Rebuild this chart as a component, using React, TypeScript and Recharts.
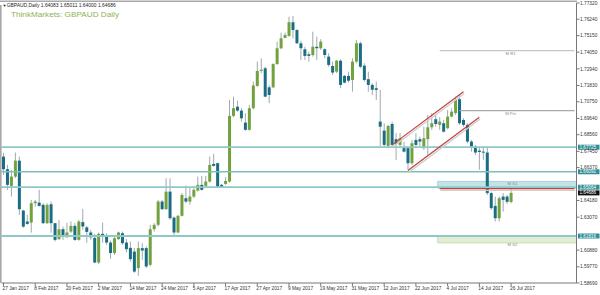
import React from 'react';
import { Bar, ComposedChart, ReferenceArea, ReferenceLine, XAxis, YAxis } from 'recharts';

// GBPAUD daily candles, 27 Jan 2017 .. 26 Jul 2017
const opens = [
  1.671, 1.6626, 1.6515, 1.6577, 1.6683, 1.6351, 1.6278, 1.6271, 1.64, 1.6404,
  1.6389, 1.6267, 1.6393, 1.6267, 1.6161, 1.6227, 1.6174, 1.6211, 1.6249, 1.6156,
  1.6274, 1.6239, 1.6205, 1.6169, 1.6005, 1.6196, 1.6183, 1.6138, 1.6068, 1.6161,
  1.62, 1.6138, 1.6103, 1.6078, 1.5968, 1.6101, 1.6101, 1.599, 1.6227, 1.6256,
  1.6411, 1.636, 1.6477, 1.6304, 1.6205, 1.6316, 1.6433, 1.6411, 1.6444, 1.6484,
  1.6522, 1.6515, 1.6544, 1.6661, 1.6666, 1.6522, 1.6528, 1.6544, 1.6981, 1.7042,
  1.7016, 1.6936, 1.6888, 1.7032, 1.718, 1.728, 1.7298, 1.7171, 1.7171, 1.7326,
  1.7431, 1.75, 1.7513, 1.7604, 1.7552, 1.7464, 1.7424, 1.7391, 1.7386, 1.7441,
  1.7431, 1.7424, 1.7375, 1.7313, 1.7275, 1.7348, 1.7247, 1.7247, 1.722, 1.7342,
  1.7464, 1.7315, 1.7225, 1.7187, 1.7165, 1.6943, 1.6883, 1.6781, 1.6927, 1.6826,
  1.6788, 1.6766, 1.6766, 1.6666, 1.6821, 1.6826, 1.6766, 1.6826, 1.6905, 1.6959,
  1.6921, 1.6932, 1.6899, 1.6976, 1.7, 1.7092, 1.6954, 1.6921, 1.681, 1.6777,
  1.675, 1.6743, 1.6737, 1.6467, 1.6382, 1.63, 1.6444, 1.6444, 1.64083,
];
const highs = [
  1.6735, 1.6655, 1.6622, 1.6737, 1.671, 1.6356, 1.6322, 1.6422, 1.6422, 1.6489,
  1.64, 1.64, 1.6411, 1.6269, 1.6289, 1.6245, 1.6269, 1.6278, 1.6267, 1.6289,
  1.6362, 1.6249, 1.6223, 1.6196, 1.6205, 1.6271, 1.62, 1.6151, 1.6178, 1.6211,
  1.6211, 1.6161, 1.6145, 1.6103, 1.6145, 1.6134, 1.6112, 1.6256, 1.6267, 1.6422,
  1.6422, 1.6566, 1.6566, 1.6311, 1.6322, 1.6467, 1.6517, 1.65, 1.65, 1.6577,
  1.6582, 1.6582, 1.671, 1.6728, 1.667, 1.6528, 1.6573, 1.7087, 1.7109, 1.7082,
  1.7032, 1.6999, 1.7054, 1.7209, 1.7342, 1.7364, 1.7308, 1.7187, 1.7331, 1.7475,
  1.7535, 1.7535, 1.7641, 1.7646, 1.7557, 1.7481, 1.7441, 1.7408, 1.7541, 1.7508,
  1.7491, 1.7431, 1.7398, 1.7342, 1.7353, 1.7358, 1.7253, 1.7275, 1.7364, 1.7486,
  1.7475, 1.7331, 1.7275, 1.7198, 1.7209, 1.7154, 1.6932, 1.6921, 1.6943, 1.6866,
  1.6866, 1.681, 1.6777, 1.6821, 1.6866, 1.6843, 1.6909, 1.6987, 1.6999, 1.6987,
  1.6972, 1.6954, 1.702, 1.7032, 1.7109, 1.712, 1.6965, 1.6932, 1.6821, 1.6788,
  1.6777, 1.6777, 1.6777, 1.6477, 1.6444, 1.6444, 1.6467, 1.6455, 1.65011,
];
const lows = [
  1.6588, 1.6489, 1.6444, 1.6566, 1.6322, 1.6236, 1.6256, 1.6204, 1.6377, 1.6377,
  1.6262, 1.6262, 1.6203, 1.6145, 1.6156, 1.6156, 1.6169, 1.6203, 1.6149, 1.615,
  1.6223, 1.6136, 1.6156, 1.6001, 1.5996, 1.6136, 1.6123, 1.603, 1.6056, 1.6156,
  1.6123, 1.6072, 1.6012, 1.5937, 1.5917, 1.6023, 1.5968, 1.5979, 1.6211, 1.6245,
  1.6356, 1.6356, 1.6289, 1.6189, 1.6201, 1.6311, 1.64, 1.6389, 1.6433, 1.6477,
  1.6484, 1.651, 1.6537, 1.6643, 1.6506, 1.6506, 1.6522, 1.6537, 1.6972, 1.7009,
  1.6943, 1.6883, 1.6883, 1.7025, 1.7175, 1.7265, 1.7105, 1.7065, 1.7165, 1.732,
  1.7424, 1.7497, 1.7508, 1.7497, 1.7459, 1.7353, 1.7353, 1.7342, 1.7375, 1.7353,
  1.742, 1.7364, 1.7308, 1.7253, 1.7265, 1.7165, 1.7198, 1.7202, 1.7142, 1.7331,
  1.7298, 1.7209, 1.7142, 1.712, 1.7087, 1.6777, 1.6768, 1.6766, 1.6777, 1.6688,
  1.6766, 1.6737, 1.6622, 1.6655, 1.6766, 1.6777, 1.6755, 1.6721, 1.6888, 1.6909,
  1.6888, 1.687, 1.6892, 1.6972, 1.6987, 1.6921, 1.6909, 1.6799, 1.6743, 1.6721,
  1.6622, 1.6688, 1.6455, 1.6356, 1.6278, 1.6278, 1.6344, 1.6395, 1.64,
];
const closes = [
  1.6626, 1.6522, 1.6577, 1.6683, 1.636, 1.6244, 1.6262, 1.64, 1.6411, 1.6382,
  1.6267, 1.6389, 1.6267, 1.6156, 1.6227, 1.6178, 1.6205, 1.6249, 1.6156, 1.6278,
  1.6245, 1.6209, 1.6173, 1.6005, 1.6196, 1.6187, 1.6138, 1.6068, 1.6167, 1.6205,
  1.6134, 1.6094, 1.6028, 1.5945, 1.6101, 1.6085, 1.5979, 1.6227, 1.6256, 1.6411,
  1.636, 1.6477, 1.63, 1.6205, 1.6316, 1.6455, 1.6411, 1.6444, 1.6489, 1.6522,
  1.6489, 1.6544, 1.6655, 1.6648, 1.651, 1.651, 1.6548, 1.6981, 1.7032, 1.7016,
  1.6965, 1.6888, 1.7032, 1.7183, 1.728, 1.7288, 1.7109, 1.712, 1.7326, 1.7431,
  1.7497, 1.7519, 1.7604, 1.7552, 1.7464, 1.7431, 1.738, 1.738, 1.7441, 1.7431,
  1.7475, 1.7386, 1.732, 1.7269, 1.7348, 1.7187, 1.7202, 1.7215, 1.7342, 1.7464,
  1.7308, 1.722, 1.7187, 1.7155, 1.7154, 1.6909, 1.6788, 1.6914, 1.6788, 1.6794,
  1.6832, 1.6743, 1.6666, 1.6799, 1.6788, 1.681, 1.6832, 1.6905, 1.6932, 1.6927,
  1.6943, 1.6876, 1.6976, 1.7009, 1.7087, 1.6932, 1.6921, 1.681, 1.6777, 1.6737,
  1.6741, 1.6737, 1.6467, 1.6367, 1.63, 1.6433, 1.6422, 1.6409, 1.64686,
];

const dateLabels = [
  '27 Jan 2017', '8 Feb 2017', '20 Feb 2017', '2 Mar 2017', '14 Mar 2017', '24 Mar 2017',
  '5 Apr 2017', '17 Apr 2017', '27 Apr 2017', '9 May 2017', '19 May 2017', '31 May 2017',
  '12 Jun 2017', '22 Jun 2017', '4 Jul 2017', '14 Jul 2017', '26 Jul 2017',
];
const LABEL_EVERY = 8;
const SLOTS = 145; // visible bar slots, including empty space right of the last bar

const priceTicks = [
  1.7732, 1.7624, 1.7515, 1.7405, 1.7294, 1.7183, 1.7075, 1.6964, 1.6856, 1.6745,
  1.6637, 1.6418, 1.6307, 1.6088, 1.5977, 1.5869,
];
const Y_MIN = 1.5869;
const Y_MAX = 1.7732;

const levels = [1.67725, 1.66091, 1.65064, 1.61816];
const lastPrice = 1.64686;
const pivotR1 = 1.7415;
const pivotPvt = 1.7016;
const s1Band = [1.65, 1.6545];
const s1Line = 1.6497;
const s2Band = [1.6136, 1.6185];
const channelUpper = [{ x: 98, y: 1.6788 }, { x: 116, y: 1.7142 }];
const channelLower = [{ x: 102, y: 1.6617 }, { x: 120, y: 1.6972 }];

const BULL = '#72a23e';
const BEAR = '#1b6d83';
const WICK = '#9fa9b0';
const TEAL = '#8fc8c8';
const TAG = '#2f8f98';
const RED = '#c4403b';
const FONT = '"Liberation Sans", Arial, sans-serif';

const data = Array.from({ length: SLOTS }, (_, i) =>
  i < opens.length
    ? { i, o: opens[i], h: highs[i], l: lows[i], c: closes[i], range: [lows[i], highs[i]] }
    : { i, range: null },
);

function Candle(props: any) {
  const { x, y, width, height, payload } = props;
  if (!payload || payload.o == null) return null;
  const top = Math.min(y, y + height);
  const bot = Math.max(y, y + height);
  const k = (bot - top) / (payload.h - payload.l);
  const py = (v: number) => top + (payload.h - v) * k;
  const cx = x + width / 2;
  const up = payload.c >= payload.o;
  const bTop = py(Math.max(payload.o, payload.c));
  const bBot = py(Math.min(payload.o, payload.c));
  return (
    <g>
      <line x1={cx} x2={cx} y1={top} y2={bot} stroke={WICK} strokeWidth={1} />
      <rect x={cx - 1.5} y={bTop} width={3} height={Math.max(1, bBot - bTop)} fill={up ? BULL : BEAR} />
    </g>
  );
}

function DateTick(props: any) {
  const { x, y, payload } = props;
  return (
    <text x={x - 1} y={y + 3.6} fontSize={4.8} fill="#333" fontFamily={FONT}>
      {dateLabels[payload.value / LABEL_EVERY]}
    </text>
  );
}

function PriceTick(props: any) {
  const { x, y, payload } = props;
  return (
    <text x={x + 0.5} y={y + 1.7} fontSize={4.8} fill="#333" fontFamily={FONT}>
      {payload.value.toFixed(5)}
    </text>
  );
}

function priceTag(text: string, bg: string) {
  return (p: any) => {
    const vb = p.viewBox;
    const x = vb.x + vb.width + 1.5;
    return (
      <g>
        <rect x={x} y={vb.y - 2.5} width={21.5} height={5} fill={bg} />
        <text x={x + 1.5} y={vb.y + 1.6} fontSize={4.6} fill="#fff" fontFamily={FONT}>
          {text}
        </text>
      </g>
    );
  };
}

function pivotText(text: string, where: 'below' | 'inside' | 'under') {
  return (p: any) => {
    const vb = p.viewBox;
    const x = vb.x + vb.width - 64;
    const y = where === 'under' ? vb.y + vb.height + 3.2 : where === 'inside' ? vb.y + 3.6 : vb.y + 4;
    return (
      <text x={x} y={y} fontSize={4.2} fill="#8a8a8a" textAnchor="middle" fontFamily={FONT}>
        {text}
      </text>
    );
  };
}

function shadowLine(color: string, width: number) {
  return (p: any) => (
    <g>
      <line x1={p.x1 + 0.8} y1={p.y1 + 1.8} x2={p.x2 + 0.8} y2={p.y2 + 1.8} stroke="#cfcfcf" strokeWidth={1.4} />
      <line x1={p.x1} y1={p.y1} x2={p.x2} y2={p.y2} stroke={color} strokeWidth={width} />
    </g>
  );
}

export default function App() {
  const last = SLOTS - 1;
  return (
    <div style={{ position: 'absolute', left: 0, top: 0, width: 600, height: 295, background: '#fff' }}>
      <ComposedChart
        width={600}
        height={295}
        data={data}
        margin={{ top: 3, right: 0, bottom: 0, left: 1.5 }}
        barCategoryGap={0}
      >
        <XAxis
          dataKey="i"
          type="category"
          ticks={dateLabels.map((_, k) => k * LABEL_EVERY)}
          interval={0}
          height={12}
          tickSize={3}
          tickMargin={0}
          tick={<DateTick />}
          axisLine={{ stroke: '#777' }}
          tickLine={{ stroke: '#777' }}
        />
        <YAxis
          orientation="right"
          domain={[Y_MIN, Y_MAX]}
          allowDataOverflow
          ticks={priceTicks}
          interval={0}
          width={23.5}
          tickSize={3}
          tickMargin={0}
          tick={<PriceTick />}
          axisLine={{ stroke: '#777' }}
          tickLine={{ stroke: '#777' }}
        />

        <ReferenceArea
          x1={110}
          x2={last}
          y1={s1Band[0]}
          y2={s1Band[1]}
          fill="#c4e2e9"
          fillOpacity={1}
          stroke="#a8d2db"
          label={pivotText('M S1', 'inside')}
        />
        <ReferenceArea
          x1={110}
          x2={last}
          y1={s2Band[0]}
          y2={s2Band[1]}
          fill="#e1eed3"
          fillOpacity={1}
          stroke="#c8dcb0"
          label={pivotText('M S2', 'under')}
        />
        <ReferenceLine y={levels[0]} stroke={TEAL} strokeWidth={1.8} />
        <ReferenceLine y={levels[1]} stroke="#7fbcbc" strokeWidth={1.3} />
        <ReferenceLine y={levels[2]} stroke={TEAL} strokeWidth={1.8} />
        <ReferenceLine y={levels[3]} stroke={TEAL} strokeWidth={1.8} />
        <ReferenceLine
          segment={[{ x: 110, y: pivotR1 }, { x: last, y: pivotR1 }]}
          stroke="#c6c6c6"
          strokeWidth={1.3}
          label={pivotText('M R1', 'below')}
        />
        <ReferenceLine
          segment={[{ x: 115, y: pivotPvt }, { x: last, y: pivotPvt }]}
          stroke="#a9a9a9"
          strokeWidth={1.2}
          label={pivotText('M Pvt', 'below')}
        />

        <Bar dataKey="range" shape={Candle} isAnimationActive={false} />

        <ReferenceLine segment={[{ x: 110, y: s1Line }, { x: last, y: s1Line }]} shape={shadowLine(RED, 1.2)} />
        <ReferenceLine segment={channelUpper} shape={shadowLine(RED, 1.2)} />
        <ReferenceLine segment={channelLower} shape={shadowLine(RED, 1.2)} />

        <ReferenceLine y={levels[0]} stroke="none" label={priceTag('1.67725', TAG)} />
        <ReferenceLine y={levels[1]} stroke="none" label={priceTag('1.66091', TAG)} />
        <ReferenceLine y={levels[2]} stroke="none" label={priceTag('1.65064', TAG)} />
        <ReferenceLine y={lastPrice} stroke="none" label={priceTag('1.64686', '#111')} />
        <ReferenceLine y={levels[3]} stroke="none" label={priceTag('1.61816', TAG)} />
      </ComposedChart>

      <svg width={600} height={295} style={{ position: 'absolute', left: 0, top: 0, pointerEvents: 'none' }}>
        <line x1={0} x2={577} y1={1.2} y2={1.2} stroke="#a8a8a8" strokeWidth={1.5} />
        <rect x={0} y={5} width={1.6} height={278} fill="#a8a8a8" />
        <text x={2.6} y={7.2} fontSize={4} fill="#222" fontFamily={FONT}>▼</text>
        <text x={6.7} y={7.4} fontSize={4.9} fill="#222" fontFamily={FONT} textLength={109} lengthAdjust="spacingAndGlyphs">
          GBPAUD,Daily  1.64083 1.65011 1.64000 1.64686
        </text>
        <text x={11} y={17} fontSize={7.6} fill="#8db255" fontFamily={FONT} textLength={108} lengthAdjust="spacingAndGlyphs">
          ThinkMarkets: GBPAUD  Daily
        </text>
      </svg>
    </div>
  );
}
